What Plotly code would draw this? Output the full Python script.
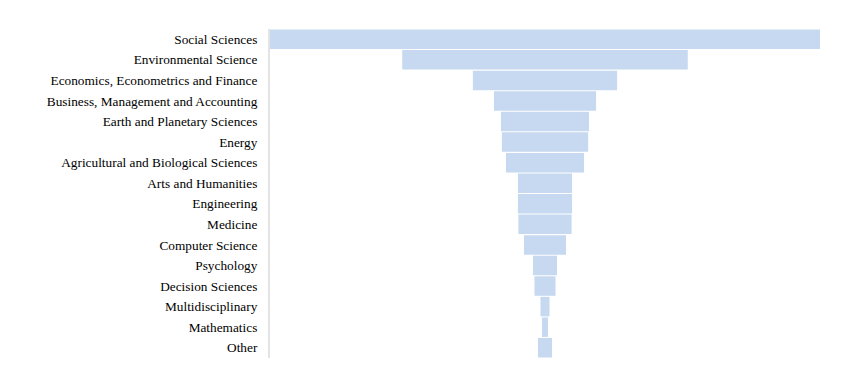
import plotly.graph_objects as go

categories = ["Social Sciences", "Environmental Science", "Economics, Econometrics and Finance",
              "Business, Management and Accounting", "Earth and Planetary Sciences", "Energy",
              "Agricultural and Biological Sciences", "Arts and Humanities", "Engineering",
              "Medicine", "Computer Science", "Psychology", "Decision Sciences",
              "Multidisciplinary", "Mathematics", "Other"]
values = [183, 95, 48, 34, 29.3, 28.7, 26, 18, 18, 17.7, 14, 8, 7, 3, 2, 4.7]

fig = go.Figure(go.Funnel(
    y=categories,
    x=values,
    marker=dict(color="#c6d9f0", line=dict(width=0)),
    connector=dict(visible=False),
    textinfo="none",
    hoverinfo="x+y",
))

half = max(values) / 2
fig.update_layout(
    width=859, height=388,
    margin=dict(l=262, r=47, t=21, b=38),
    paper_bgcolor="white", plot_bgcolor="white",
    funnelgap=0.05,
    showlegend=False,
    font=dict(family="Liberation Serif, Times New Roman, serif", size=13.3, color="#000"),
    xaxis=dict(visible=False, range=[-half, half]),
    yaxis=dict(showline=True, linecolor="#e3e3e3", linewidth=2, ticks="", ticklabelstandoff=8,
               showgrid=False),
)
fig.write_html("out.html")
